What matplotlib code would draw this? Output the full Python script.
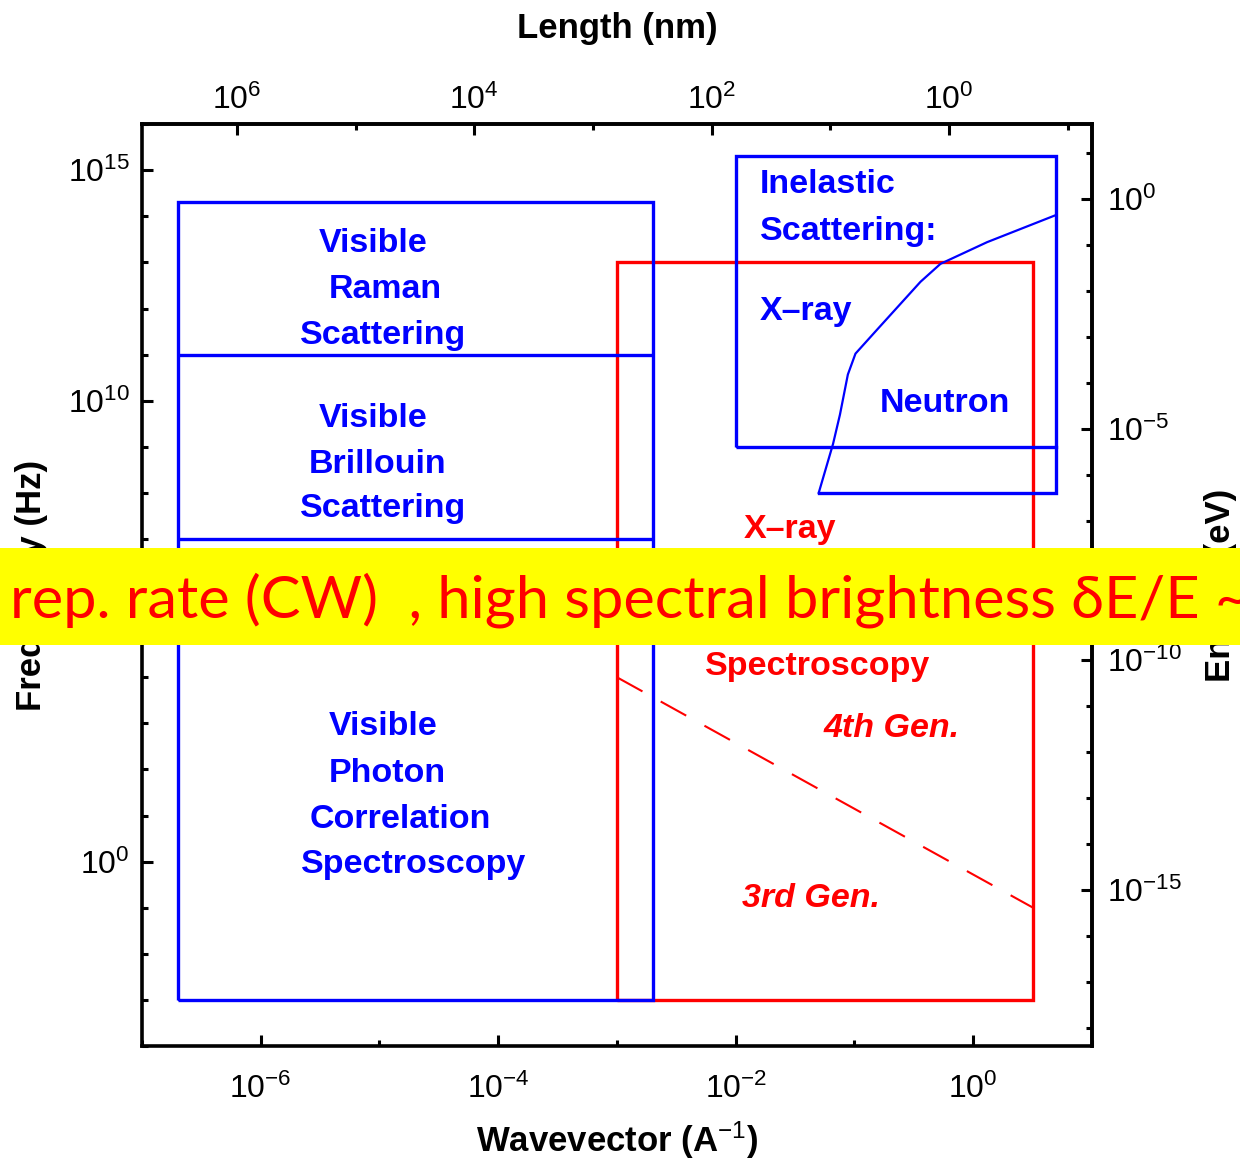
import matplotlib.pyplot as plt
from matplotlib.patches import Rectangle
from matplotlib.ticker import FixedLocator, LogLocator, FuncFormatter, NullFormatter
import numpy as np

plt.rcParams['font.family'] = ['Liberation Sans', 'DejaVu Sans']
plt.rcParams['mathtext.fontset'] = 'custom'
plt.rcParams['mathtext.rm'] = 'Liberation Sans'
plt.rcParams['mathtext.it'] = 'Liberation Sans:italic'
plt.rcParams['mathtext.bf'] = 'Liberation Sans:bold'

H_EV = 4.1357e-15   # Planck constant, eV s

# axis ranges
q_range = (1e-7, 1e1)       # wavevector, 1/A
f_range = (1e-4, 1e16)      # frequency, Hz

# labelled ticks on each side
q_ticks = [1e-6, 1e-4, 1e-2, 1e0]
len_ticks = [1e6, 1e4, 1e2, 1e0]
f_ticks = [1e0, 1e5, 1e10, 1e15]
e_ticks = [1e-15, 1e-10, 1e-5, 1e0]

# visible light techniques (Raman / Brillouin / photon correlation)
visible_q = (2e-7, 2e-3)
visible_f = (1e-3, 2e14)
visible_splits = [1e11, 1e7]

# x-ray photon correlation spectroscopy
xpcs_q = (1e-3, 3.2)
xpcs_f = (1e-3, 1e13)

# inelastic x-ray / neutron scattering
inelastic_q = (1e-2, 5.0)
inelastic_f = (1e9, 2e15)
neutron_floor = 1e8

# neutron kinematic limit
neutron_q = [0.05, 0.066, 0.0755, 0.088, 0.102, 0.157, 0.36, 0.53, 1.31, 5.0]
neutron_f = [1e8, 1.15e9, 5e9, 3.7e10, 1.05e11, 3.6e11, 3.8e12, 9.3e12, 2.75e13, 1.07e14]

# 3rd / 4th generation source boundary
gen_q = [1e-3, 3.2]
gen_f = [1e4, 1e-1]

BLUE = '#0000ff'
RED = '#ff0000'


def pow10(v, pos):
    return r'$10^{%d}$' % round(np.log10(v))


def q_to_len(q):
    q = np.asarray(q, dtype=float)
    with np.errstate(divide='ignore'):
        return 0.2 * np.pi / q   # 2*pi/q in A, converted to nm


def box(ax, q, f, color, lw=2.4):
    ax.plot([q[0], q[1], q[1], q[0], q[0]], [f[0], f[0], f[1], f[1], f[0]],
            color=color, lw=lw, solid_joinstyle='miter', solid_capstyle='butt')


fig = plt.figure(figsize=(12.4, 11.61), dpi=100)
ax = fig.add_axes([0.1145, 0.0990, 0.7661, 0.7941])
ax.set_xscale('log')
ax.set_yscale('log')
ax.set_xlim(*q_range)
ax.set_ylim(*f_range)

# regions
box(ax, xpcs_q, xpcs_f, RED)
ax.plot(gen_q, gen_f, color=RED, lw=1.5, dashes=(14, 10))
box(ax, visible_q, visible_f, BLUE)
ax.hlines(visible_splits, *visible_q, color=BLUE, lw=2.4)
box(ax, inelastic_q, inelastic_f, BLUE)
ax.plot([neutron_q[0], inelastic_q[1], inelastic_q[1]],
        [neutron_floor, neutron_floor, inelastic_f[0]],
        color=BLUE, lw=2.4, solid_joinstyle='miter')
ax.plot(neutron_q, neutron_f, color=BLUE, lw=1.6)

# region labels
box_font = dict(fontsize=24.5, fontweight='bold', transform=ax.transAxes, va='baseline')
blue_labels = [
    ('Visible', 0.2432, 0.8612), ('Raman', 0.2558, 0.8113), ('Scattering', 0.2537, 0.7614),
    ('Visible', 0.2432, 0.6714), ('Brillouin', 0.2484, 0.6215), ('Scattering', 0.2537, 0.5738),
    ('Visible', 0.2537, 0.3373), ('Photon', 0.2579, 0.2863), ('Correlation', 0.2716, 0.2364),
    ('Spectroscopy', 0.2863, 0.1876), ('Neutron', 0.8453, 0.6876),
]
for s, x, y in blue_labels:
    ax.text(x, y, s, color=BLUE, ha='center', **box_font)
for s, y in [('Inelastic', 0.9252), ('Scattering:', 0.8742), ('X\u2013ray', 0.7874)]:
    ax.text(0.6505, y, s, color=BLUE, ha='left', **box_font)
ax.text(0.6821, 0.5510, 'X\u2013ray', color=RED, ha='center', **box_font)
ax.text(0.7116, 0.4024, 'Spectroscopy', color=RED, ha='center', **box_font)
ax.text(0.7895, 0.3351, '4th Gen.', color=RED, ha='center', fontstyle='italic', **box_font)
ax.text(0.7042, 0.1508, '3rd Gen.', color=RED, ha='center', fontstyle='italic', **box_font)

# secondary scales: length on top, energy on the right
top = ax.secondary_xaxis('top', functions=(q_to_len, q_to_len))
right = ax.secondary_yaxis('right', functions=(lambda f: np.asarray(f) * H_EV,
                                                lambda e: np.asarray(e) / H_EV))

ax.xaxis.set_major_locator(FixedLocator(q_ticks))
ax.yaxis.set_major_locator(FixedLocator(f_ticks))
top.xaxis.set_major_locator(FixedLocator(len_ticks))
right.yaxis.set_major_locator(FixedLocator(e_ticks))
for axis in (ax.xaxis, ax.yaxis, top.xaxis, right.yaxis):
    axis.set_major_formatter(FuncFormatter(pow10))
    axis.set_minor_locator(LogLocator(base=10, subs=(1.0,), numticks=100))
    axis.set_minor_formatter(NullFormatter())

for a in (ax, top, right):
    a.tick_params(which='major', direction='in', length=8, width=2.2, labelsize=23)
    a.tick_params(which='minor', direction='in', length=4.5, width=2.2)
    for sp in a.spines.values():
        sp.set_linewidth(2.6)
ax.tick_params(top=False, right=False)
ax.tick_params(axis='x', pad=20)
ax.tick_params(axis='y', pad=9)
top.tick_params(pad=6)
right.tick_params(pad=11)

label_font = dict(fontsize=25, fontweight='bold', va='center')
ax.set_xlabel('Wavevector (A$^{-1}$)', **label_font)
ax.xaxis.set_label_coords(0.5, -0.102)
ax.set_ylabel('Frequency (Hz)', **label_font)
ax.yaxis.set_label_coords(-0.116, 0.5)
top.set_xlabel('Length (nm)', **label_font)
top.xaxis.set_label_coords(0.5, 1.104, transform=ax.transAxes)
right.set_ylabel('Energy (eV)', **label_font)
right.yaxis.set_label_coords(1.135, 0.5, transform=ax.transAxes)

# highlighted note across the figure
fig.add_artist(Rectangle((0, 1 - 645 / 1161), 1, 97 / 1161, transform=fig.transFigure,
                         facecolor='#ffff00', edgecolor='none', zorder=10))
fig.text(0.008, 1 - 618 / 1161, 'rep. rate (CW)  , high spectral brightness \u03b4E/E ~',
         color=RED, fontsize=42.8, family=['Lato', 'Noto Sans', 'DejaVu Sans'],
         va='baseline', ha='left', zorder=11)

fig.savefig('out.png', dpi=100)
